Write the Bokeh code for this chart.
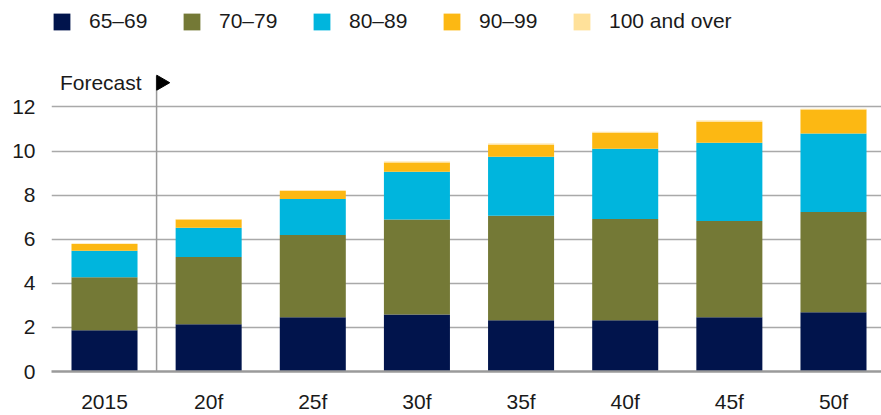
import math
from bokeh.plotting import figure
from bokeh.models import ColumnDataSource, FixedTicker, Range1d, Legend, LegendItem
from bokeh.core.properties import value
from bokeh.embed import file_html
from bokeh.resources import INLINE

# ---- data ----
years = ["2015", "20f", "25f", "30f", "35f", "40f", "45f", "50f"]
age_65_69 = [1.87, 2.14, 2.46, 2.59, 2.32, 2.32, 2.46, 2.69]
age_70_79 = [2.41, 3.05, 3.73, 4.30, 4.74, 4.60, 4.37, 4.55]
age_80_89 = [1.20, 1.33, 1.64, 2.17, 2.68, 3.18, 3.55, 3.55]
age_90_99 = [0.30, 0.37, 0.36, 0.42, 0.55, 0.73, 0.95, 1.09]
age_100_plus = [0.03, 0.03, 0.03, 0.05, 0.05, 0.05, 0.05, 0.04]
series_names = ["65–69", "70–79", "80–89", "90–99", "100 and over"]
series_colors = ["#01144c", "#747936", "#00b5dd", "#fcb813", "#ffe19a"]
y_ticks = [0, 2, 4, 6, 8, 10, 12]
forecast_label = "Forecast"

FONT = "Liberation Sans"
FS = "21px"
TXT = "#1a1a1a"

x_pos = list(range(len(years)))
keys = ["a", "b", "c", "d", "e"]
src = ColumnDataSource(dict(x=x_pos, a=age_65_69, b=age_70_79, c=age_80_89,
                            d=age_90_99, e=age_100_plus))

p = figure(width=881, height=415, output_backend="svg", toolbar_location=None,
           x_range=Range1d(-0.509, 7.461), y_range=Range1d(0, 16.42),
           min_border_left=51, min_border_right=0, min_border_top=9,
           min_border_bottom=44)
p.outline_line_color = None
p.background_fill_color = "white"
p.border_fill_color = "white"

# grid
p.xgrid.visible = False
p.ygrid.ticker = FixedTicker(ticks=y_ticks[1:])
p.ygrid.grid_line_color = "#a9a9a9"
p.ygrid.grid_line_width = 1.6

# bars
renderers = p.vbar_stack(keys, x="x", width=0.634, source=src,
                         color=series_colors, line_color=None)

# forecast divider
p.segment(x0=[0.5], y0=[0], x1=[0.5], y1=[13.42], line_color="#9a9a9a", line_width=1.5)
p.text(x=[0.5], y=[13.12], text=[forecast_label], x_offset=-15,
       text_align="right", text_baseline="alphabetic",
       text_font=value(FONT), text_font_size=FS, text_color=TXT)
p.scatter(x=[0.5433], y=[13.10], marker="triangle", size=15, angle=-math.pi / 2,
          fill_color="black", line_color="black")

# axes
xa = p.xaxis[0]
xa.ticker = FixedTicker(ticks=x_pos)
xa.major_label_overrides = {i: y for i, y in enumerate(years)}
xa.axis_line_color = "#9a9a9a"
xa.axis_line_width = 2.5
xa.major_tick_line_color = None
xa.minor_tick_line_color = None
xa.major_label_standoff = 12
xa.major_label_text_font = FONT
xa.major_label_text_font_size = FS
xa.major_label_text_color = TXT

ya = p.yaxis[0]
ya.ticker = FixedTicker(ticks=y_ticks)
ya.axis_line_color = None
ya.major_tick_line_color = None
ya.minor_tick_line_color = None
ya.major_label_standoff = 10
ya.major_label_text_font = FONT
ya.major_label_text_font_size = FS
ya.major_label_text_color = TXT

# legend
items = [LegendItem(label=n, renderers=[r]) for n, r in zip(series_names, renderers)]
legend = Legend(items=items, orientation="horizontal", location="top_left",
                glyph_width=21, glyph_height=21, label_standoff=17,
                label_width=62, spacing=30, padding=1, margin=0,
                border_line_color=None, background_fill_alpha=0,
                label_text_font=FONT, label_text_font_size=FS,
                label_text_color=TXT)
p.add_layout(legend)

open("out.html", "w").write(file_html(p, INLINE))
